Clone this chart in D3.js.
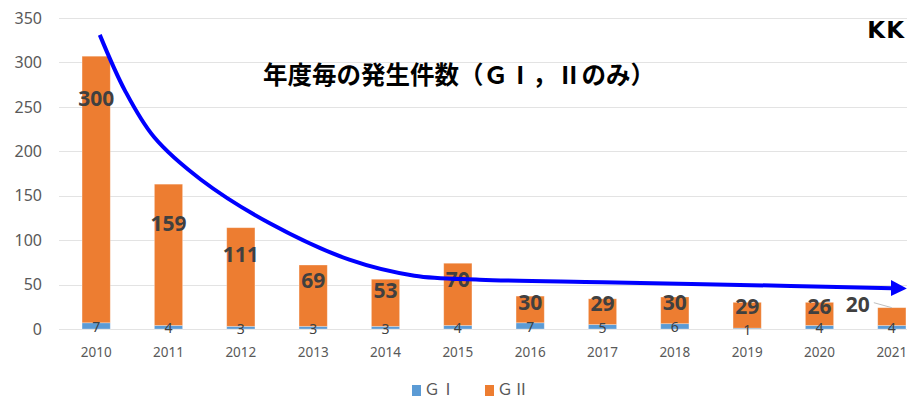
<!DOCTYPE html>
<html>
<head>
<meta charset="utf-8">
<script src="https://cdn.jsdelivr.net/npm/d3@7"></script>
<style>
  body { margin: 0; background: #fff; }
  svg { display: block; }
</style>
</head>
<body>
<div id="chart"></div>
<script>
// data
const years = ["2010","2011","2012","2013","2014","2015","2016","2017","2018","2019","2020","2021"]
const g1 = [7,4,3,3,3,4,7,5,6,1,4,4]
const g2 = [300,159,111,69,53,70,30,29,30,29,26,20]
const yTicks = [0,50,100,150,200,250,300,350]
// hand drawn trend arrow (year, value)
const trendYears = [2010.05, 2010.4, 2010.8, 2011.45, 2012.4, 2013.5, 2014.4, 2015.3, 2017.0, 2019.6, 2021.0]
const trendValues = [331, 268, 216, 168, 119, 78, 60, 55.5, 52.5, 48.5, 46]
const titleText = "年度毎の発生件数（ＧⅠ，Ⅱのみ）"
const legendNames = ["ＧⅠ", "ＧⅡ"]
const colors = ["#5B9BD5", "#ED7D31"]

const width = 907, height = 400

const svg = d3.select("#chart")
  .append("svg")
  .attr("width", width)
  .attr("height", height)

const x = d3.scaleBand()
  .domain(years)
  .range([60, 928])
  .paddingInner(0.61)
  .paddingOuter(0.305)

const y = d3.scaleLinear()
  .domain([0, 350])
  .range([329, 18])

const xt = d3.scaleLinear()
  .domain([2010, 2021])
  .range([x("2010") + x.bandwidth()/2, x("2021") + x.bandwidth()/2])

// gridlines
svg.append("g")
  .selectAll("line")
  .data(yTicks)
  .enter()
  .append("line")
  .attr("x1", 59)
  .attr("x2", width)
  .attr("y1", d => Math.round(y(d)) + 0.5)
  .attr("y2", d => Math.round(y(d)) + 0.5)
  .attr("stroke", "#e3e3e3")
  .attr("stroke-width", 1)

// y axis labels
svg.append("g")
  .selectAll("text")
  .data(yTicks)
  .enter()
  .append("text")
  .attr("x", 42)
  .attr("y", d => y(d))
  .attr("dy", "0.36em")
  .attr("text-anchor", "end")
  .attr("font-family", "Noto Sans, sans-serif")
  .attr("font-size", 16)
  .attr("fill", "#595959")
  .text(d => d)

// x axis labels
svg.append("g")
  .selectAll("text")
  .data(years)
  .enter()
  .append("text")
  .attr("x", d => x(d) + x.bandwidth()/2)
  .attr("y", 352)
  .attr("dy", "0.36em")
  .attr("text-anchor", "middle")
  .attr("font-family", "Noto Sans, sans-serif")
  .attr("font-size", 13.5)
  .attr("fill", "#595959")
  .text(d => d)

// stacked bars
const table = years.map((yr, i) => ({year: yr, g1: g1[i], g2: g2[i]}))
const stacked = d3.stack().keys(["g1", "g2"])(table)

svg.append("g")
  .selectAll("g")
  .data(stacked)
  .enter()
  .append("g")
  .attr("fill", (d, i) => colors[i])
  .selectAll("rect")
  .data(d => d)
  .enter()
  .append("rect")
  .attr("x", d => x(d.data.year))
  .attr("width", x.bandwidth())
  .attr("y", d => y(d[1]))
  .attr("height", d => y(d[0]) - y(d[1]))
  .attr("stroke", "#fff")
  .attr("stroke-opacity", 0.35)
  .attr("stroke-width", 0.8)

// G1 labels
svg.append("g")
  .selectAll("text")
  .data(table)
  .enter()
  .append("text")
  .attr("x", d => x(d.year) + x.bandwidth()/2)
  .attr("y", d => y(d.g1 / 2) + 1)
  .attr("dy", "0.36em")
  .attr("text-anchor", "middle")
  .attr("font-family", "Noto Sans, sans-serif")
  .attr("font-size", 14)
  .attr("fill", "#404040")
  .text(d => d.g1)

// G2 labels (last one sits to the left with a leader line)
const last = table.length - 1
svg.append("g")
  .selectAll("text")
  .data(table)
  .enter()
  .append("text")
  .attr("x", (d, i) => x(d.year) + x.bandwidth()/2 - (i == last ? 34 : 0))
  .attr("y", (d, i) => {
    const top = y(d.g1 + d.g2)
    if (i == last) return top - 3
    const h = y(0) - top
    return top + Math.max(Math.min(h * 0.3 - 4, 42), 1)
  })
  .attr("dy", "0.36em")
  .attr("text-anchor", "middle")
  .attr("font-family", "Noto Sans, sans-serif")
  .attr("font-weight", "bold")
  .attr("font-size", 21)
  .attr("fill", "#404040")
  .text(d => d.g2)

svg.append("line")
  .attr("x1", x(years[last]) + x.bandwidth()/2 - 18)
  .attr("y1", y(g1[last] + g2[last]) - 5)
  .attr("x2", x(years[last]) + x.bandwidth()/2)
  .attr("y2", y(g1[last] + g2[last]))
  .attr("stroke", "#bfbfbf")
  .attr("stroke-width", 1)

// trend arrow
svg.append("defs")
  .append("marker")
  .attr("id", "arrow")
  .attr("markerUnits", "userSpaceOnUse")
  .attr("markerWidth", 16)
  .attr("markerHeight", 16)
  .attr("refX", 1)
  .attr("refY", 8)
  .attr("orient", "auto")
  .append("path")
  .attr("d", "M0,0 L16,8 L0,16 Z")
  .attr("fill", "#0000FF")

const line = d3.line()
  .x(d => xt(d[0]))
  .y(d => y(d[1]))
  .curve(d3.curveCatmullRom.alpha(0.5))

svg.append("path")
  .datum(trendYears.map((t, i) => [t, trendValues[i]]))
  .attr("d", line)
  .attr("fill", "none")
  .attr("stroke", "#0000FF")
  .attr("stroke-width", 4)
  .attr("marker-end", "url(#arrow)")

// title
svg.append("text")
  .attr("x", 263)
  .attr("y", 75)
  .attr("dy", "0.36em")
  .attr("font-family", "Noto Sans CJK JP, sans-serif")
  .attr("font-weight", "bold")
  .attr("font-size", 24.5)
  .attr("fill", "#000")
  .text(titleText)

svg.append("text")
  .attr("x", 905)
  .attr("y", 38)
  .attr("text-anchor", "end")
  .attr("font-family", "DejaVu Sans, sans-serif")
  .attr("font-weight", "bold")
  .attr("font-size", 23)
  .attr("letter-spacing", 1)
  .attr("fill", "#000")
  .text("KK")

// legend
const legend = svg.append("g")
  .selectAll("g")
  .data(legendNames)
  .enter()
  .append("g")
  .attr("transform", (d, i) => "translate(" + (412 + i * 73) + ",385)")
legend.append("rect")
  .attr("width", 9)
  .attr("height", 11)
  .attr("fill", (d, i) => colors[i])
legend.append("text")
  .attr("x", 12)
  .attr("y", 10)
  .attr("font-family", "Noto Sans CJK JP, sans-serif")
  .attr("font-size", 16)
  .attr("fill", "#595959")
  .text(d => d)
</script>
</body>
</html>
